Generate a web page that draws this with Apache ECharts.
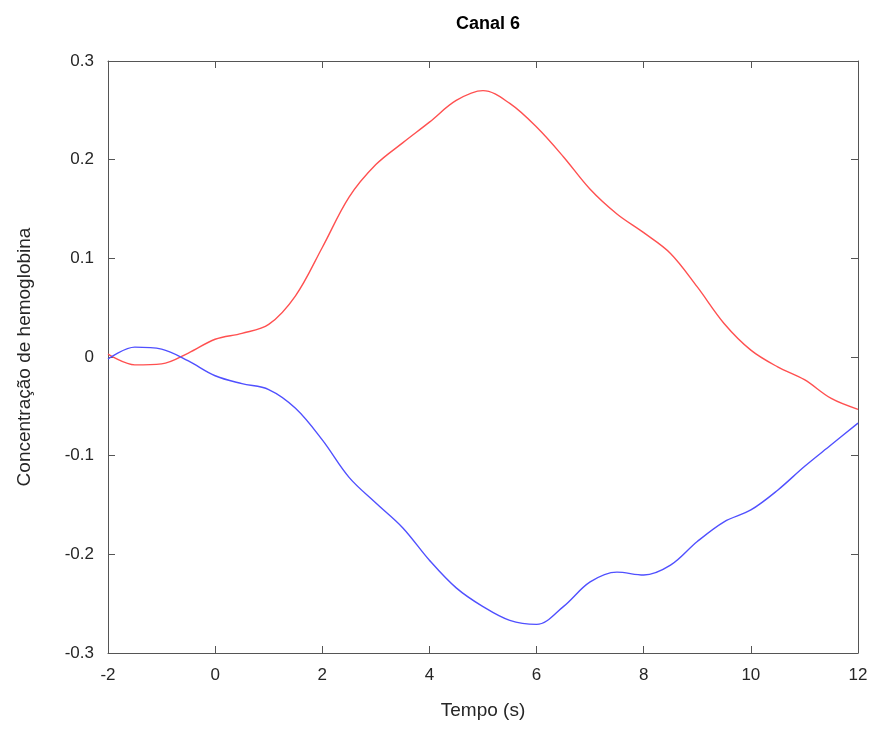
<!DOCTYPE html>
<html>
<head>
<meta charset="utf-8">
<script src="https://cdn.jsdelivr.net/npm/echarts@6/dist/echarts.min.js"></script>
<style>
    html, body { margin: 0; padding: 0; background: #fff; }
    #chart { width: 874px; height: 729px; }
</style>
</head>
<body>
<div id="chart"></div>
<script>
    // tempo (s)
    var tempo = [-2, -1.5, -1, -0.5, 0, 0.5, 1, 1.5, 2, 2.5, 3, 3.5, 4, 4.5, 5, 5.5, 6, 6.5, 7, 7.5, 8, 8.5, 9, 9.5, 10, 10.5, 11, 11.5, 12];
    // curva vermelha
    var vermelho = [0.003, -0.008, -0.007, 0.004, 0.018, 0.024, 0.033, 0.062, 0.111, 0.162, 0.195, 0.217, 0.238, 0.260, 0.270, 0.257, 0.233, 0.203, 0.170, 0.145, 0.126, 0.105, 0.071, 0.034, 0.007, -0.010, -0.023, -0.042, -0.053];
    // curva azul
    var azul = [-0.002, 0.010, 0.008, -0.004, -0.019, -0.027, -0.033, -0.052, -0.084, -0.122, -0.148, -0.173, -0.206, -0.234, -0.253, -0.267, -0.271, -0.253, -0.228, -0.218, -0.221, -0.211, -0.187, -0.167, -0.155, -0.135, -0.111, -0.089, -0.067];

    function pares(ys) {
        var out = [];
        for (var i = 0; i < tempo.length; i++) out.push([tempo[i], ys[i]]);
        return out;
    }

    var corEixo = '#555555';
    var fonte = 'Liberation Sans, Arial, sans-serif';

    var myChart = echarts.init(document.getElementById('chart'));

    var option = {
        backgroundColor: '#fff',
        animation: false,
        title: {
            text: 'Canal 6',
            left: 483,
            top: 10,
            textAlign: 'center',
            textStyle: { fontFamily: fonte, fontSize: 18, fontWeight: 'bold', color: '#000' }
        },
        grid: { left: 108, right: 16, top: 61, bottom: 76 },
        xAxis: [{
            type: 'value',
            position: 'bottom',
            min: -2, max: 12, interval: 2,
            name: 'Tempo (s)',
            nameLocation: 'middle',
            nameGap: 48,
            nameTextStyle: { fontFamily: fonte, fontSize: 19, color: '#262626' },
            axisLine: { show: true, onZero: false, lineStyle: { color: corEixo } },
            axisTick: { show: true, inside: true, length: 7, lineStyle: { color: corEixo } },
            axisLabel: { fontFamily: fonte, fontSize: 17, color: '#262626', margin: 14 },
            splitLine: { show: false }
        }, {
            type: 'value',
            position: 'top',
            min: -2, max: 12, interval: 2,
            axisLine: { show: true, onZero: false, lineStyle: { color: corEixo } },
            axisTick: { show: true, inside: true, length: 7, lineStyle: { color: corEixo } },
            axisLabel: { show: false },
            splitLine: { show: false }
        }],
        yAxis: [{
            type: 'value',
            position: 'left',
            min: -0.3, max: 0.3, interval: 0.1,
            name: 'Concentração de hemoglobina',
            nameLocation: 'middle',
            nameGap: 74,
            nameTextStyle: { fontFamily: fonte, fontSize: 19, color: '#262626' },
            axisLine: { show: true, onZero: false, lineStyle: { color: corEixo } },
            axisTick: { show: true, inside: true, length: 7, lineStyle: { color: corEixo } },
            axisLabel: {
                fontFamily: fonte, fontSize: 17, color: '#262626', margin: 14,
                formatter: function (v) {
                    var r = Math.round(v * 10) / 10;
                    return r === 0 ? '0' : String(r);
                }
            },
            splitLine: { show: false }
        }, {
            type: 'value',
            position: 'right',
            min: -0.3, max: 0.3, interval: 0.1,
            axisLine: { show: true, onZero: false, lineStyle: { color: corEixo } },
            axisTick: { show: true, inside: true, length: 7, lineStyle: { color: corEixo } },
            axisLabel: { show: false },
            splitLine: { show: false }
        }],
        series: [{
            type: 'line',
            data: pares(vermelho),
            smooth: 0.35,
            showSymbol: false,
            lineStyle: { color: '#ff5050', width: 1.4 },
            itemStyle: { color: '#ff5050' }
        }, {
            type: 'line',
            data: pares(azul),
            smooth: 0.35,
            showSymbol: false,
            lineStyle: { color: '#5050ff', width: 1.4 },
            itemStyle: { color: '#5050ff' }
        }]
    };
    myChart.setOption(option);
</script>
</body>
</html>
